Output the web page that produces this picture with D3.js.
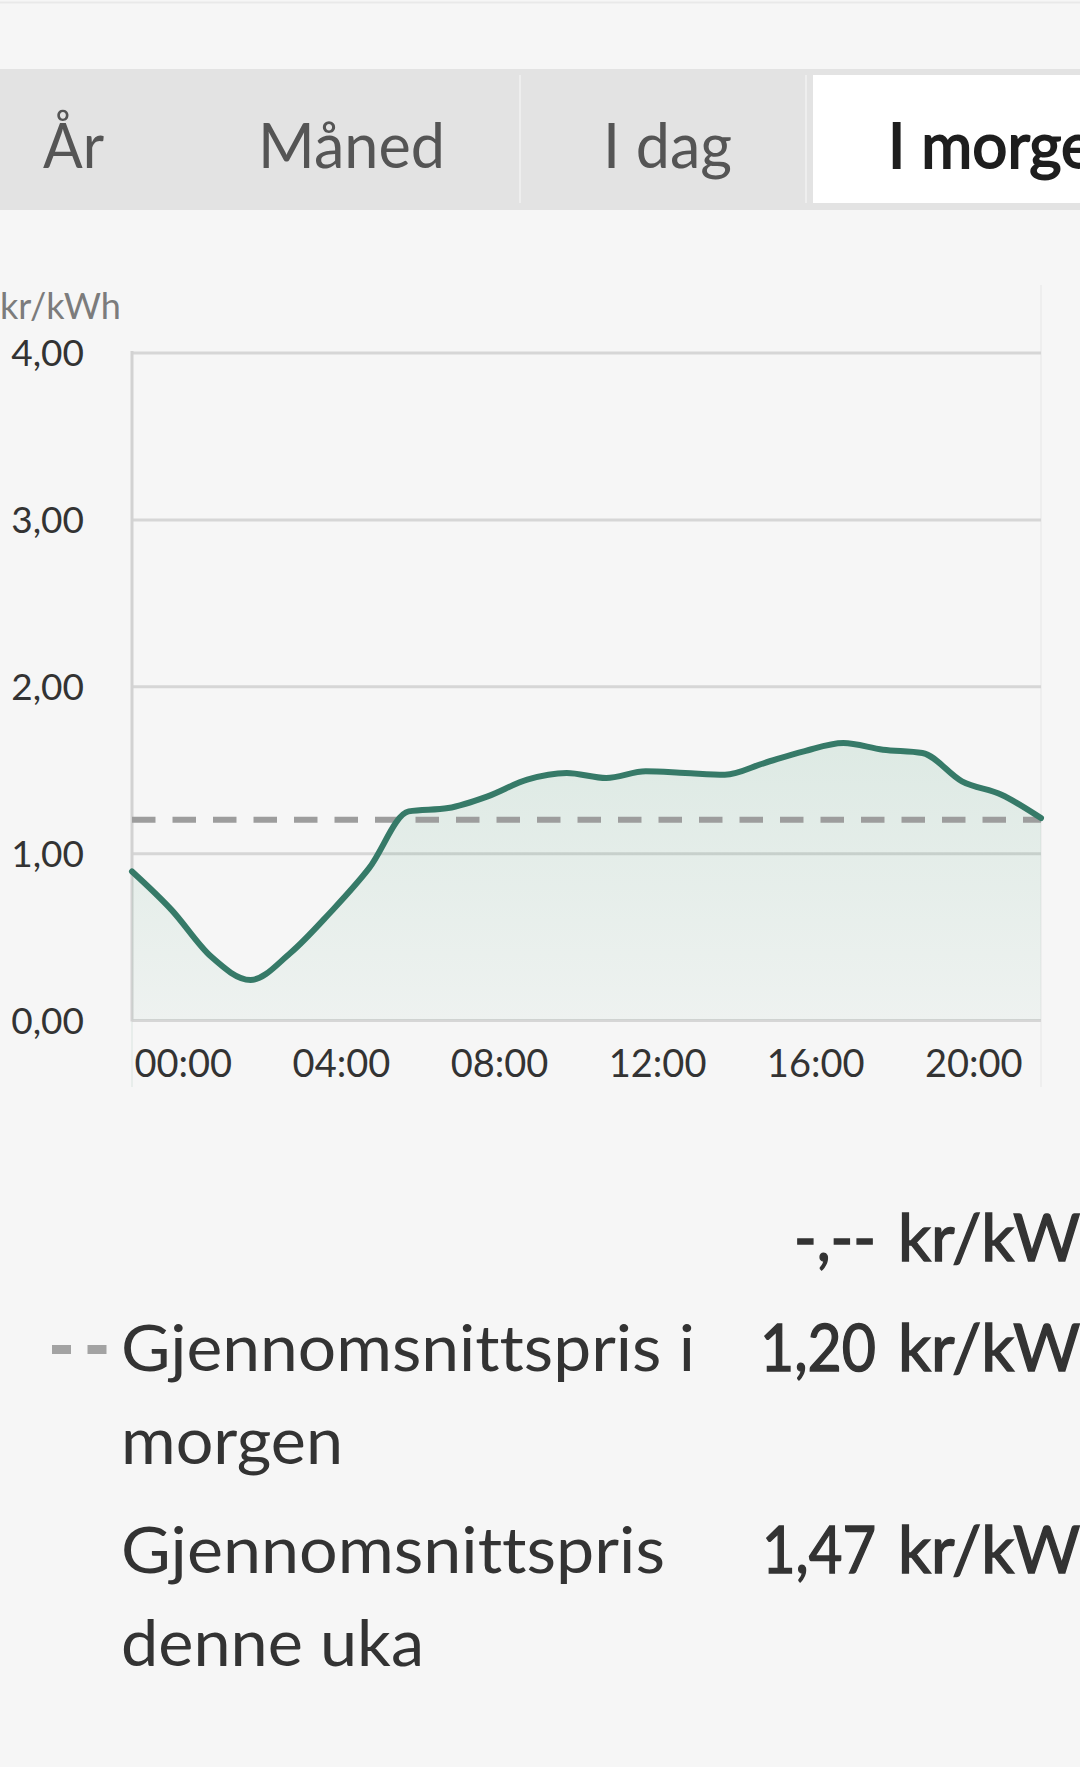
<!DOCTYPE html>
<html>
<head>
<meta charset="utf-8">
<script src="https://cdn.jsdelivr.net/npm/d3@7/dist/d3.min.js"></script>
<style>
  html, body { margin: 0; padding: 0; background: #f6f6f6; overflow: hidden; }
  svg { display: block; font-family: Lato, "Open Sans", sans-serif; font-variant-ligatures: none; font-feature-settings: "liga" 0, "clig" 0; }
</style>
</head>
<body>
<svg id="chart" width="1080" height="1767"></svg>
<script>
// ---------- data ----------
const tabs = ["År", "Måned", "I dag", "I morgen"];
const selectedTab = "I morgen";
const hours = [0,1,2,3,4,5,6,7,8,9,10,11,12,13,14,15,16,17,18,19,20,21,22,23];
const prices = [0.89, 0.66, 0.38, 0.24, 0.40, 0.64, 0.91, 1.25, 1.27, 1.34, 1.44, 1.48,
                1.45, 1.49, 1.48, 1.47, 1.54, 1.61, 1.66, 1.62, 1.60, 1.43, 1.35, 1.21];
const averageTomorrow = 1.20;
const yTicks = [0, 1, 2, 3, 4];
const yTickLabels = ["0,00", "1,00", "2,00", "3,00", "4,00"];
const xTicks = [0, 4, 8, 12, 16, 20];
const xTickLabels = ["00:00", "04:00", "08:00", "12:00", "16:00", "20:00"];
const yAxisTitle = "kr/kWh";
const unit = "kr/kWh";
const legendLabels = [["", ""], ["Gjennomsnittspris i", "morgen"], ["Gjennomsnittspris", "denne uka"]];
const legendValues = ["-,--", "1,20", "1,47"];

// ---------- layout ----------
const svg = d3.select("#chart");
const W = 1080;
const plot = { left: 132, right: 1041, top: 352.5, bottom: 1020 };
const lineColor = "#367a68";

// top hairline
svg.append("line").attr("x1", 0).attr("x2", W).attr("y1", 2.5).attr("y2", 2.5)
  .attr("stroke", "#e9e9e9").attr("stroke-width", 2);

// ---------- tabs ----------
svg.append("rect").attr("x", 0).attr("y", 69).attr("width", W).attr("height", 141).attr("fill", "#e3e3e3");
[520, 806].forEach(x => svg.append("line").attr("x1", x).attr("x2", x).attr("y1", 75).attr("y2", 203)
  .attr("stroke", "#eeeeee").attr("stroke-width", 2));
svg.append("rect").attr("x", 813).attr("y", 75).attr("width", W - 813).attr("height", 128).attr("fill", "#ffffff");
const tabPos = [{x: 43, w: 61}, {x: 258, w: 187}, {x: 603, w: 129}, {x: 888, w: null}];
tabs.forEach((t, i) => {
  const sel = t === selectedTab;
  const el = svg.append("text").attr("x", tabPos[i].x).attr("y", 168)
    .attr("font-size", 62).attr("font-weight", 400)
    .attr("fill", sel ? "#1e1e1e" : "#555555").text(t);
  if (sel) el.attr("stroke", "#1e1e1e").attr("stroke-width", 1.8);
  if (tabPos[i].w) el.attr("textLength", tabPos[i].w).attr("lengthAdjust", "spacingAndGlyphs");
});

// ---------- chart ----------
const x = d3.scaleLinear().domain([0, 23]).range([plot.left, plot.right]);
const y = d3.scaleLinear().domain([0, 4]).range([plot.bottom, plot.top]);

// faint canvas edges
svg.append("line").attr("x1", plot.right).attr("x2", plot.right).attr("y1", 285).attr("y2", 1087)
  .attr("stroke", "#ebebeb").attr("stroke-width", 1.5);
svg.append("line").attr("x1", plot.left).attr("x2", plot.left).attr("y1", plot.bottom).attr("y2", 1087)
  .attr("stroke", "#e3eae7").attr("stroke-width", 1.5);

// gridlines via axis
const gridAxis = d3.axisLeft(y).tickValues(yTicks).tickSize(-(plot.right - plot.left)).tickFormat("");
const grid = svg.append("g").attr("transform", `translate(${plot.left},0)`).call(gridAxis);
grid.select(".domain").remove();
grid.selectAll(".tick line").attr("stroke", "#d6d6d6").attr("stroke-width", 3);

// y axis line
svg.append("line").attr("x1", plot.left).attr("x2", plot.left).attr("y1", plot.top - 1.5).attr("y2", plot.bottom + 1.5)
  .attr("stroke", "#d2d2d2").attr("stroke-width", 3);

// y tick labels
const yAxis = d3.axisLeft(y).tickValues(yTicks).tickSize(0).tickPadding(0)
  .tickFormat(d => yTickLabels[yTicks.indexOf(d)]);
const ya = svg.append("g").attr("transform", `translate(84,0)`).call(yAxis);
ya.select(".domain").remove();
ya.selectAll("text").attr("font-size", 37).attr("fill", "#333").attr("font-family", "Lato, sans-serif")
  .attr("dy", "0.36em").attr("x", 0);

// y title
svg.append("text").attr("x", 0).attr("y", 319).attr("font-size", 36).attr("fill", "#7c7c7c").text(yAxisTitle);

// area gradient
const defs = svg.append("defs");
const grad = defs.append("linearGradient").attr("id", "areaGrad").attr("x1", 0).attr("x2", 0).attr("y1", 0).attr("y2", 1);
grad.append("stop").attr("offset", "0%").attr("stop-color", "#2a9060").attr("stop-opacity", 0.12);
grad.append("stop").attr("offset", "100%").attr("stop-color", "#2a9060").attr("stop-opacity", 0.04);

const area = d3.area().x((d, i) => x(hours[i])).y0(y(0)).y1(d => y(d)).curve(d3.curveMonotoneX);
svg.append("path").datum(prices).attr("d", area).attr("fill", "url(#areaGrad)");

// average dashed line
svg.append("line").attr("x1", x(0)).attr("x2", x(23)).attr("y1", y(averageTomorrow)).attr("y2", y(averageTomorrow))
  .attr("stroke", "#9d9d9d").attr("stroke-width", 6).attr("stroke-dasharray", "23.5 17");

// price line
const line = d3.line().x((d, i) => x(hours[i])).y(d => y(d)).curve(d3.curveMonotoneX);
svg.append("path").datum(prices).attr("d", line).attr("fill", "none")
  .attr("stroke", lineColor).attr("stroke-width", 6).attr("stroke-linejoin", "round").attr("stroke-linecap", "round");

// x tick labels
const xAxis = d3.axisBottom(x).tickValues(xTicks).tickSize(0).tickPadding(0)
  .tickFormat(d => xTickLabels[xTicks.indexOf(d)]);
const xa = svg.append("g").call(xAxis);
xa.select(".domain").remove();
xa.selectAll("text").attr("font-size", 38).attr("fill", "#333").attr("font-family", "Lato, sans-serif")
  .attr("text-anchor", "start").attr("x", 2).attr("y", 1077).attr("dy", null);

// ---------- legend ----------
const rowBase = [1261, 1371, 1573];
const valueWidths = [82, 116, 114];
legendValues.forEach((v, i) => {
  svg.append("text").attr("x", 876).attr("y", rowBase[i]).attr("text-anchor", "end")
    .attr("font-size", 65).attr("fill", "#333").attr("stroke", "#333").attr("stroke-width", 1.4)
    .attr("textLength", valueWidths[i]).attr("lengthAdjust", "spacingAndGlyphs").text(v);
  svg.append("text").attr("x", 898).attr("y", rowBase[i])
    .attr("font-size", 65).attr("fill", "#333").attr("stroke", "#333").attr("stroke-width", 1.4).text(unit);
});
// dashed legend symbol
svg.append("line").attr("x1", 52).attr("x2", 109).attr("y1", 1349.5).attr("y2", 1349.5)
  .attr("stroke", "#a3a3a3").attr("stroke-width", 9).attr("stroke-dasharray", "19 16.5");
const labelWidths = [[0, 0], [574, 222], [544, 303]];
legendLabels.forEach((lbl, i) => {
  lbl.forEach((t, j) => {
    if (!t) return;
    svg.append("text").attr("x", 121).attr("y", rowBase[i] + j * 93)
      .attr("font-size", 64).attr("fill", "#333")
      .attr("textLength", labelWidths[i][j]).attr("lengthAdjust", "spacingAndGlyphs").text(t);
  });
});
</script>
</body>
</html>
